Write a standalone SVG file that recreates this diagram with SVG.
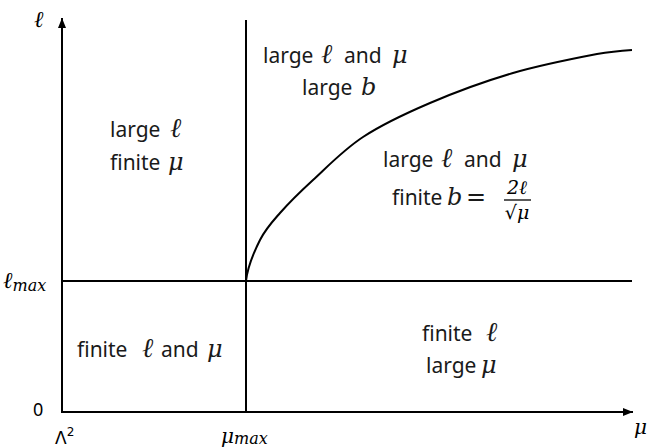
<svg xmlns="http://www.w3.org/2000/svg" width="647" height="447" viewBox="0 0 647 447">
<style>
.ln{stroke:#000;stroke-width:2;fill:none}
.t{font-family:"Noto Sans","Open Sans",sans-serif;font-size:21px;fill:#1a1a1a}
.m{font-family:"DejaVu Serif","Liberation Serif",serif;font-style:italic;font-size:24px}
.l{font-size:27px}
.f{font-family:"DejaVu Serif","Liberation Serif",serif;font-style:italic;font-size:19px;fill:#000}
.ax{font-family:"DejaVu Serif","Liberation Serif",serif;font-style:italic;fill:#000}
</style>
<defs>
<marker id="arr" viewBox="0 0 10 8" refX="10" refY="4" markerWidth="10" markerHeight="8" markerUnits="userSpaceOnUse" orient="auto">
<path d="M0,0 L10,4 L0,8 Z" fill="#000"/>
</marker>
</defs>
<rect width="647" height="447" fill="#fff"/>
<g id="connectors">
<line class="ln" x1="62" y1="413" x2="62" y2="18" marker-end="url(#arr)"/>
<line class="ln" x1="61" y1="412" x2="633" y2="412" marker-end="url(#arr)"/>
<line class="ln" x1="246" y1="20" x2="246" y2="412"/>
<line class="ln" x1="62" y1="281" x2="632" y2="281"/>
<path class="ln" d="M246,281 C247.5,267 254.3,251.3 260,240 C265.7,228.7 271.2,223 280,213 C288.8,203 299.2,192.7 313,180 C326.8,167.3 343.5,149.8 363,137 C382.5,124.2 405,113.7 430,103 C455,92.3 485.2,81.2 513,73 C540.8,64.8 577.2,57.8 597,54 C610,52 626,50.5 632,50"/>
</g>
<g id="axis-labels">
<text class="ax" x="34" y="27" style="font-size:23px">ℓ</text>
<text class="ax" x="3" y="288" style="font-size:23px">ℓ<tspan style="font-size:16px" dy="3">max</tspan></text>
<text x="33" y="416" style="font-family:'Noto Sans',sans-serif;font-size:18px">0</text>
<text x="55" y="444" style="font-family:'DejaVu Sans',sans-serif;font-size:17px">Λ<tspan style="font-size:12px" dy="-8">2</tspan></text>
<text class="ax" x="221" y="443" style="font-size:20px">μ<tspan style="font-size:16px" dy="1">max</tspan></text>
<text class="ax" x="634" y="434" style="font-size:20px">μ</text>
</g>
<g id="region-large-l-finite-mu">
<text class="t" y="137"><tspan x="110">large</tspan><tspan class="m l" x="170">ℓ</tspan></text>
<text class="t" y="170"><tspan x="110">finite</tspan><tspan class="m" x="168">μ</tspan></text>
</g>
<g id="region-large-b">
<text class="t" y="63"><tspan x="263">large</tspan><tspan class="m l" x="321">ℓ</tspan><tspan x="344">and</tspan><tspan class="m" x="392">μ</tspan></text>
<text class="t" y="95"><tspan x="302">large</tspan><tspan class="m" x="361">b</tspan></text>
</g>
<g id="region-finite-b">
<text class="t" y="167"><tspan x="383">large</tspan><tspan class="m l" x="441">ℓ</tspan><tspan x="464">and</tspan><tspan class="m" x="512">μ</tspan></text>
<text class="t" y="205"><tspan x="392">finite</tspan><tspan class="m" x="447">b</tspan><tspan x="466" style="font-family:'DejaVu Sans',sans-serif;font-size:24px">=</tspan></text>
<text class="f" x="517" y="194" text-anchor="middle">2ℓ</text>
<line x1="504" y1="200" x2="531" y2="200" stroke="#000" stroke-width="1.3"/>
<text class="f" x="517" y="219" text-anchor="middle"><tspan style="font-style:normal">√</tspan>μ</text>
</g>
<g id="region-finite-l-mu">
<text class="t" y="357"><tspan x="77">finite</tspan><tspan class="m l" x="142">ℓ</tspan><tspan x="161">and</tspan><tspan class="m" x="207">μ</tspan></text>
</g>
<g id="region-large-mu">
<text class="t" y="341"><tspan x="422">finite</tspan><tspan class="m l" x="486">ℓ</tspan></text>
<text class="t" y="373"><tspan x="426">large</tspan><tspan class="m" x="481">μ</tspan></text>
</g>
</svg>
